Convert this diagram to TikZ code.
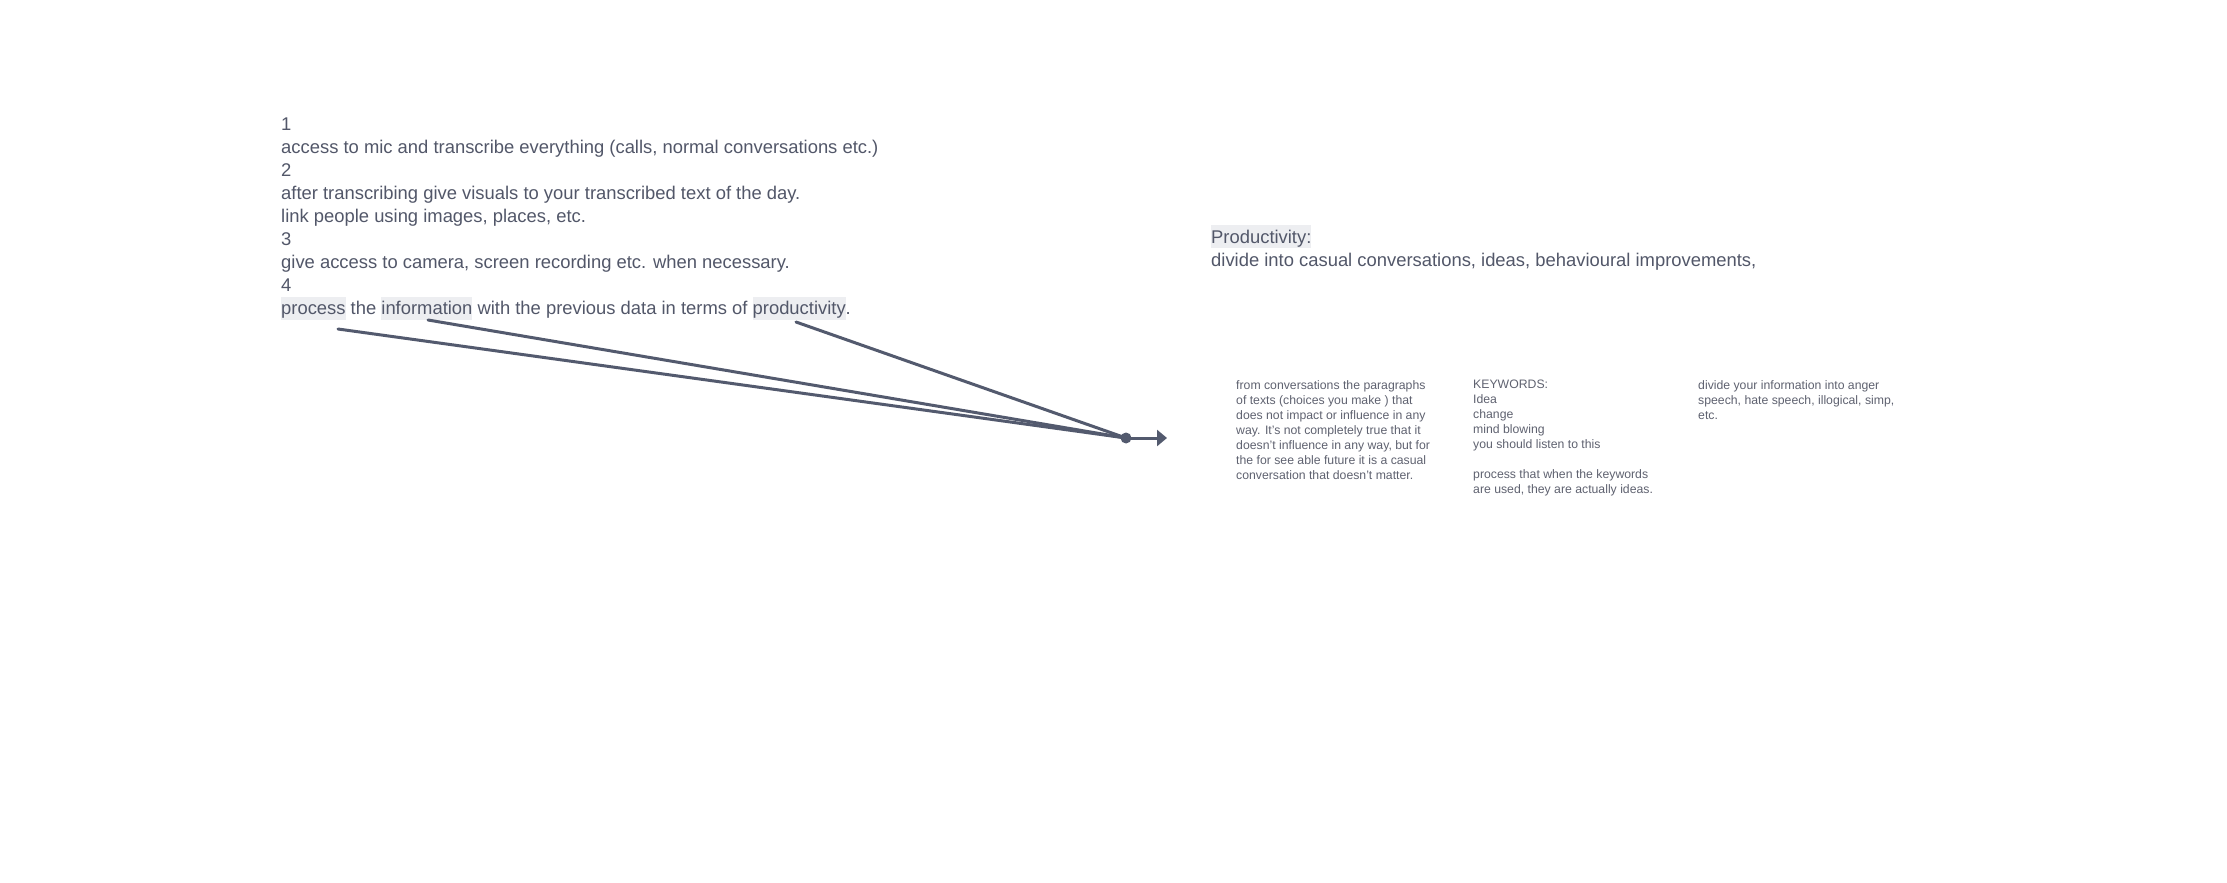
\documentclass[tikz,border=0pt]{standalone}
\usepackage{fontspec}
\setmainfont{Liberation Sans}
\usepackage{xcolor}
\usetikzlibrary{arrows.meta,positioning}

\definecolor{notetext}{HTML}{525769}
\definecolor{memotext}{HTML}{5F6270}
\definecolor{hlgray}{HTML}{EDEEF1}
\definecolor{linkcol}{HTML}{535A6E}

\newcommand{\rowstrut}{\rule[-5.1pt]{0pt}{23pt}}
\newcommand{\memostrut}{\rule[-3.3pt]{0pt}{15pt}}
\newcommand{\hlword}[1]{{\setlength{\fboxsep}{0pt}\colorbox{hlgray}{\rowstrut#1}}}

\begin{document}
\begin{tikzpicture}[x=1pt, y=-1pt,
  notebox/.style={anchor=north west, inner sep=0pt, align=left, text=notetext,
                  font=\fontsize{18.4}{23}\selectfont, execute at begin node=\rowstrut},
  memo/.style={anchor=north west, inner sep=0pt, align=left, text=memotext,
               font=\fontsize{12.25}{15}\selectfont, execute at begin node=\memostrut},
  leadline/.style={line width=3pt, linkcol, line cap=round},
  arr/.style={-{Triangle[length=10pt, width=16pt]}, line width=3pt, linkcol}
]
\fill[white] (0,0) rectangle (2227,883);
\useasboundingbox (0,0) rectangle (2227,883);

% ======= Steps =======
\node[notebox] (steps) at (281,118) {1\\
access to mic and transcribe everything (calls, normal conversations etc.)\\
2\\
after transcribing give visuals to your transcribed text of the day.\\
link people using images, places, etc.\\
3\\
give access to camera, screen recording etc. when necessary.\\
4\\
\hlword{process} the \hlword{information} with the previous data in terms of \hlword{productivity}.};

% ======= Productivity =======
\node[notebox] (prod) at (1211,225) {\hlword{Productivity:}\\
divide into casual conversations, ideas, behavioural improvements,};

% ======= Categories =======
\node[memo] (casual) at (1236,380) {from conversations the paragraphs\\
of texts (choices you make ) that\\
does not impact or influence in any\\
way. It's not completely true that it\\
doesn't influence in any way, but for\\
the for see able future it is a casual\\
conversation that doesn't matter.};
\node[memo] (ideas) at (1473,380) {KEYWORDS:\\
Idea\\
change\\
mind blowing\\
you should listen to this\\[15pt]
process that when the keywords\\
are used, they are actually ideas.};
\node[memo] (behav) at (1698,380) {divide your information into anger\\
speech, hate speech, illogical, simp,\\
etc.};

% ======= Connections =======
\node[circle, fill=linkcol, inner sep=0pt, minimum size=11pt] (hub) at (1126,438) {};
\coordinate (procFoot) at (338,329);
\coordinate (infoFoot) at (428,320);
\coordinate (prodFoot) at (796,322);
\coordinate (hubOut)   at (1167,438);

\draw[leadline] (procFoot) -- (hub.center);
\draw[leadline] (infoFoot) -- (hub.center);
\draw[leadline] (prodFoot) -- (hub.center);
\draw[arr] (hub.center) -- (hubOut);

\end{tikzpicture}
\end{document}
